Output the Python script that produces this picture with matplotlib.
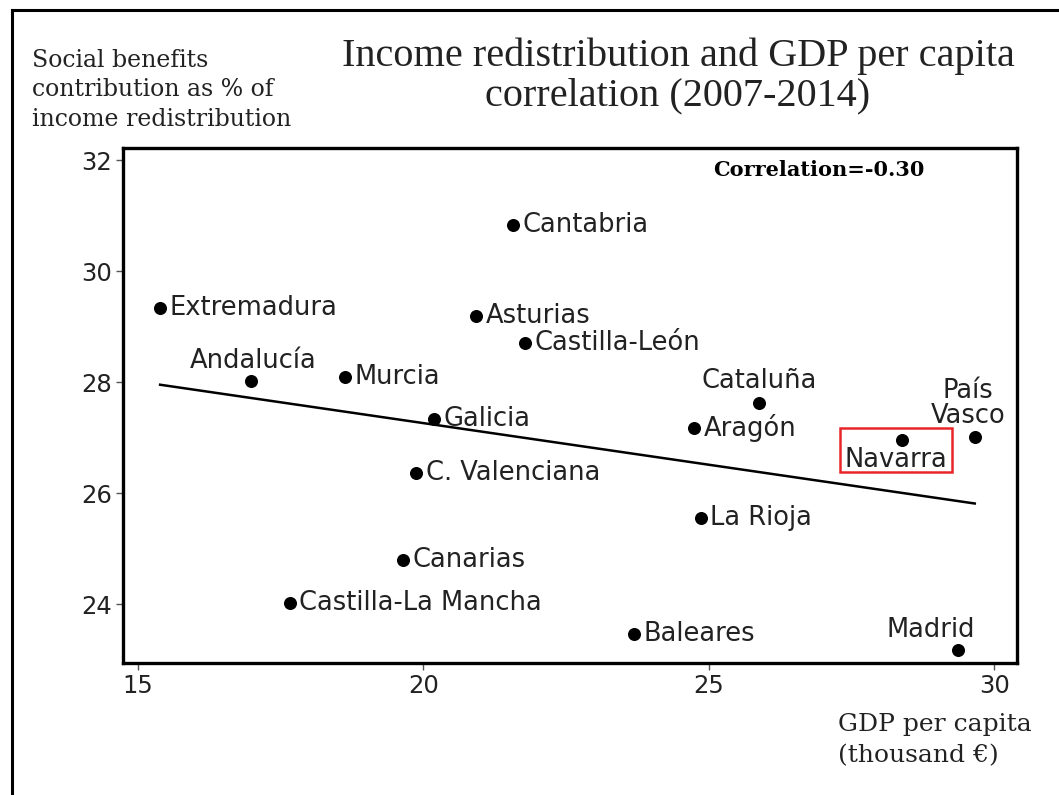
import matplotlib.pyplot as plt
import numpy as np
from matplotlib.lines import Line2D
from matplotlib.patches import Rectangle

# regional data: GDP per capita (thousand EUR) vs social benefits share (%)
regions = ["Extremadura", "Andalucía", "Murcia", "Cantabria", "Asturias",
           "Castilla-León", "Galicia", "C. Valenciana", "Canarias",
           "Castilla-La Mancha", "Baleares", "La Rioja", "Aragón",
           "Cataluña", "Navarra", "País\nVasco", "Madrid"]
gdp = [15.39, 16.98, 18.63, 21.57, 20.92, 21.78, 20.18, 19.87, 19.64,
       17.66, 23.69, 24.86, 24.75, 25.88, 28.38, 29.66, 29.36]
benefits = [29.33, 28.02, 28.09, 30.83, 29.19, 28.70, 27.33, 26.36, 24.79,
            24.02, 23.46, 25.55, 27.17, 27.62, 26.95, 27.01, 23.17]
x_ticks = [15, 20, 25, 30]
y_ticks = [24, 26, 28, 30, 32]

# label placement: (dx, dy) in points
above = {"Andalucía": (2, 5), "Cataluña": (0, 7), "País\nVasco": (-5, 6),
         "Madrid": (-19, 5)}
below = {"Navarra": (-4, -5)}

sans = ["DejaVu Sans"]
serif = ["Liberation Serif", "DejaVu Serif"]
wide_serif = ["DejaVu Serif"]
ink = "#222222"
lab_size = 18.5

fig = plt.figure(figsize=(10.59, 7.95), dpi=100)
ax = fig.add_axes([123 / 1059, 132 / 795, 894 / 1059, 515 / 795])

ax.scatter(gdp, benefits, s=70, color="black", zorder=3)

# linear fit over the data range
slope, intercept = np.polyfit(gdp, benefits, 1)
xs = np.array([min(gdp), max(gdp)])
ax.plot(xs, intercept + slope * xs, color="black", lw=1.8, zorder=2)

for name, x, y in zip(regions, gdp, benefits):
    if name in above:
        dx, dy = above[name]
        ax.annotate(name, (x, y), xytext=(dx, dy), textcoords="offset points",
                    ha="center", va="bottom", fontsize=lab_size, family=sans,
                    color=ink, linespacing=0.95)
    elif name in below:
        dx, dy = below[name]
        ax.annotate(name, (x, y), xytext=(dx, dy), textcoords="offset points",
                    ha="center", va="top", fontsize=lab_size, family=sans,
                    color=ink)
    else:
        ax.annotate(name, (x, y), xytext=(7, 0), textcoords="offset points",
                    ha="left", va="center", fontsize=lab_size, family=sans,
                    color=ink)

# red box around Navarra
fig.patches.append(Rectangle((840 / 1059, 1 - 472 / 795), 112 / 1059, 44 / 795,
                             transform=fig.transFigure, fill=False,
                             edgecolor="#e8262a", lw=1.8))

ax.set_xlim(14.74, 30.40)
ax.set_ylim(22.94, 32.22)
ax.set_xticks(x_ticks)
ax.set_yticks(y_ticks)
for sp in ax.spines.values():
    sp.set_linewidth(2.4)
ax.tick_params(direction="out", length=5, width=1, colors="#555555",
               labelsize=17.5, labelcolor=ink, pad=3)
for lab in ax.get_xticklabels() + ax.get_yticklabels():
    lab.set_family(sans)

ax.text(0.66, 0.957, "Correlation=-0.30", transform=ax.transAxes,
        fontsize=15, fontweight="bold", family=wide_serif, color="black",
        ha="left", va="center")

fig.text(678 / 1059, 1 - 76 / 795,
         "Income redistribution and GDP per capita\ncorrelation (2007-2014)",
         ha="center", va="center", fontsize=29, family=serif, color=ink,
         linespacing=1.1)
fig.text(32 / 1059, 1 - 90 / 795,
         "Social benefits\ncontribution as % of\nincome redistribution",
         ha="left", va="center", fontsize=17, family=wide_serif, color=ink,
         linespacing=1.35)
fig.text(838 / 1059, 1 - 740 / 795, "GDP per capita\n(thousand €)",
         ha="left", va="center", fontsize=18, family=wide_serif, color=ink,
         linespacing=1.45)

# outer frame (top and left edges visible)
fig.lines.append(Line2D([12 / 1059, 12 / 1059], [0, 1 - 10 / 795],
                        transform=fig.transFigure, color="black", lw=2.2))
fig.lines.append(Line2D([12 / 1059, 1], [1 - 10 / 795, 1 - 10 / 795],
                        transform=fig.transFigure, color="black", lw=2.2))

fig.savefig("out.png", dpi=100)
